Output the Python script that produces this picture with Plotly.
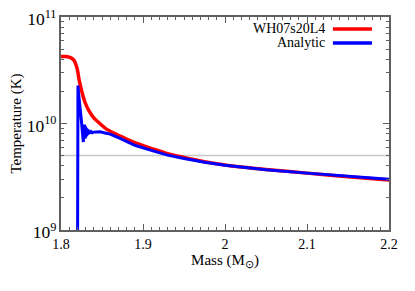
import plotly.graph_objects as go

# Red: WH07s20L4
red_mass = [1.800, 1.805, 1.810, 1.813, 1.816, 1.818, 1.820, 1.822, 1.825, 1.829,
            1.834, 1.840, 1.848, 1.856, 1.865, 1.875, 1.890, 1.910, 1.930, 1.950,
            1.975, 2.000, 2.050, 2.100, 2.150, 2.200]
red_temp = [4.25e10, 4.25e10, 4.2e10, 4.1e10, 3.9e10, 3.6e10, 3.2e10, 2.6e10, 2.05e10, 1.6e10,
            1.32e10, 1.13e10, 9.9e9, 8.8e9, 8.1e9, 7.45e9, 6.6e9, 5.85e9, 5.2e9, 4.8e9,
            4.38e9, 4.08e9, 3.7e9, 3.42e9, 3.16e9, 2.94e9]

# Blue: Analytic
blue_mass = [1.8199, 1.8201, 1.8207, 1.8215, 1.8232, 1.8252, 1.8272, 1.8280, 1.8287, 1.8293,
             1.8298, 1.8303, 1.8308, 1.8313, 1.8318, 1.8323, 1.8328, 1.8333, 1.8338, 1.8343,
             1.8348, 1.8353, 1.8358, 1.8363, 1.8370, 1.8380, 1.8400, 1.8450,
             1.8476, 1.8550, 1.8600, 1.8720, 1.8900, 1.9100, 1.9300, 1.9500, 1.9750, 2.0000,
             2.0500, 2.1000, 2.1500, 2.2000]
blue_temp = [1e8, 1.8e10, 2.27e10, 1.9e10, 1.5e10, 1.0e10, 6.7e9, 8.8e9, 9.8e9, 7.2e9,
             9.4e9, 7.4e9, 9.1e9, 7.6e9, 8.9e9, 7.8e9, 8.8e9, 7.9e9, 8.6e9, 8.0e9,
             8.5e9, 8.05e9, 8.4e9, 8.1e9, 8.35e9, 8.2e9, 8.3e9, 8.4e9,
             8.35e9, 8.1e9, 7.95e9, 7.24e9, 6.25e9, 5.6e9, 5.05e9, 4.7e9, 4.32e9, 4.05e9,
             3.68e9, 3.42e9, 3.18e9, 2.99e9]

# Grey reference line
ref_mass = [1.8, 2.2]
ref_temp = [5e9, 5e9]

series_names = ["WH07s20L4", "Analytic"]
series_colors = ["#ff0000", "#0000ff"]

x_tickvals = [1.8, 1.9, 2.0, 2.1, 2.2]
x_ticktext = ["1.8", "1.9", "2", "2.1", "2.2"]

FONT = "Liberation Serif"
AX = "#606060"

fig = go.Figure()
fig.add_trace(go.Scatter(x=ref_mass, y=ref_temp, mode="lines",
                         line=dict(color="#c8c8c8", width=1.5), hoverinfo="skip"))
fig.add_trace(go.Scatter(x=red_mass, y=red_temp, mode="lines", name=series_names[0],
                         line=dict(color=series_colors[0], width=3.5, shape="spline", smoothing=0.6)))
fig.add_trace(go.Scatter(x=blue_mass, y=blue_temp, mode="lines", name=series_names[1],
                         line=dict(color=series_colors[1], width=3)))

# legend drawn gnuplot-style: text right-aligned, sample line on the right
for i, (nm, col) in enumerate(zip(series_names, series_colors)):
    yp = 0.944 - i * 0.066
    fig.add_annotation(text=nm, xref="paper", yref="paper", x=0.808, y=yp,
                       xanchor="right", yanchor="middle", showarrow=False,
                       borderpad=0, font=dict(family=FONT, size=14, color="black"))
    fig.add_shape(type="line", xref="paper", yref="paper", x0=0.829, x1=0.948,
                  y0=yp, y1=yp, line=dict(color=col, width=3.5))

# page body adds an 8px offset; size the figure so the plot area lands at x 61-389, y 17-230
fig.update_layout(
    width=407, height=283,
    margin=dict(l=53, r=26, t=9, b=61, autoexpand=False),
    paper_bgcolor="white", plot_bgcolor="white",
    showlegend=False,
    font=dict(family=FONT, size=15, color="black"),
)
fig.update_xaxes(
    range=[1.8, 2.2], tickvals=x_tickvals, ticktext=x_ticktext,
    ticks="inside", ticklen=6, tickcolor=AX, showline=True, linecolor=AX, linewidth=1.5,
    mirror="ticks", showgrid=False, zeroline=False, automargin=False,
    ticklabeloverflow="allow",
    minor=dict(dtick=0.01, ticks="inside", ticklen=3, tickcolor=AX, showgrid=False),
    title=dict(text="Mass (M<sub>⊙</sub>)", standoff=4, font=dict(family=FONT, size=15)),
    tickfont=dict(family=FONT, size=14),
)
fig.update_yaxes(
    type="log", range=[9, 11], dtick=1, exponentformat="power",
    ticks="inside", ticklen=6, tickcolor=AX, showline=True, linecolor=AX, linewidth=1.5,
    mirror="ticks", showgrid=False, zeroline=False, automargin=False,
    ticklabeloverflow="allow", ticklabelshift=2,
    minor=dict(dtick="D1", ticks="inside", ticklen=3, tickcolor=AX, showgrid=False),
    title=dict(text="Temperature (K)", standoff=6, font=dict(family=FONT, size=15)),
    tickfont=dict(family=FONT, size=14),
)

fig.write_html("out.html")
